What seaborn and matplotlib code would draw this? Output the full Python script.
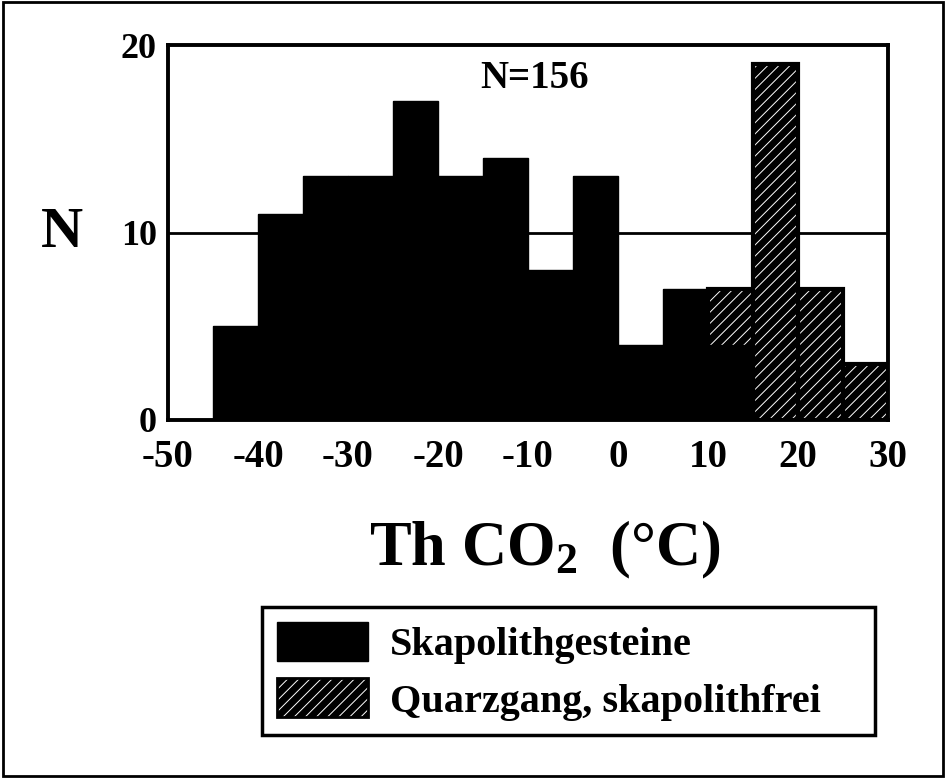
import numpy as np
import pandas as pd
import matplotlib
matplotlib.use("Agg")
import matplotlib.pyplot as plt
import seaborn as sns
from matplotlib.patches import Patch, Rectangle
from matplotlib.legend_handler import HandlerTuple

# ---- data ----
bin_left = [-45, -40, -35, -30, -25, -20, -15, -10, -5, 0, 5, 10, 15, 20, 25]
skapolith = [5, 11, 13, 13, 17, 13, 14, 8, 13, 4, 7, 4, 0, 0, 0]
quarzgang = [0, 0, 0, 0, 0, 0, 0, 0, 0, 0, 0, 3, 19, 7, 3]
x_ticks = [-50, -40, -30, -20, -10, 0, 10, 20, 30]
y_ticks = [0, 10, 20]
labels = ["Skapolithgesteine", "Quarzgang, skapolithfrei"]
bin_width = 5

df = pd.DataFrame({
    "center": np.array(bin_left) + bin_width / 2,
    "skap": skapolith,
    "quarz": quarzgang,
})
df["total"] = df["skap"] + df["quarz"]
df["quarz_total"] = np.where(df["quarz"] > 0, df["total"], 0)
edges = bin_left + [bin_left[-1] + bin_width]

sns.set_theme(style="white")
plt.rcParams["font.family"] = ["Liberation Serif", "DejaVu Serif"]
plt.rcParams["font.weight"] = "bold"
plt.rcParams["text.color"] = "black"
plt.rcParams["mathtext.fontset"] = "custom"
plt.rcParams["mathtext.rm"] = "Liberation Serif:bold"
plt.rcParams["mathtext.it"] = "Liberation Serif:bold"
plt.rcParams["mathtext.bf"] = "Liberation Serif:bold"
plt.rcParams["hatch.linewidth"] = 0.7
plt.rcParams["hatch.color"] = "white"

HATCH = "///"

fig = plt.figure(figsize=(9.46, 7.78), dpi=100)
ax = fig.add_axes([168 / 946, 1 - 420 / 778, 720 / 946, 375 / 778])

# hatched (total height), then outline, then black bars on top
n0 = len(ax.patches)
sns.histplot(data=df, x="center", weights="total", bins=edges, ax=ax,
             color="black", alpha=1, zorder=2)
for p in ax.patches[n0:]:
    p.set_facecolor("black")
    p.set_edgecolor("white")
    p.set_linewidth(0)
    p.set_hatch(HATCH)
sns.histplot(data=df, x="center", weights="quarz_total", bins=edges, ax=ax,
             fill=False, color="black", linewidth=3, zorder=3)
n1 = len(ax.patches)
sns.histplot(data=df, x="center", weights="skap", bins=edges, ax=ax,
             color="black", alpha=1, zorder=4)
for p in ax.patches[n1:]:
    p.set_facecolor("black")
    p.set_edgecolor("black")
    p.set_linewidth(1)

ax.axhline(10, color="black", lw=2, zorder=1)

ax.set_xlim(-50, 30)
ax.set_ylim(0, 20)
ax.set_xticks(x_ticks)
ax.set_yticks(y_ticks)
ax.set_xticklabels([str(t) for t in x_ticks])
ax.set_yticklabels([str(t) for t in y_ticks])
ax.tick_params(axis="both", length=0, labelsize=28, colors="black")
ax.tick_params(axis="y", pad=8, labelsize=26)
ax.tick_params(axis="x", pad=14)
for lab in ax.get_xticklabels() + ax.get_yticklabels():
    lab.set_fontweight("bold")
ax.set_xlabel("")
ax.set_ylabel("")
for s in ax.spines.values():
    s.set_visible(True)
    s.set_color("black")
    s.set_linewidth(2.8)

fig.text(62 / 946, 1 - 233 / 778, "N", fontsize=42, fontweight="bold",
         ha="center", va="center", color="black")
fig.text(535 / 946, 1 - 78 / 778, "N=156", fontsize=28, fontweight="bold",
         ha="center", va="center", color="black")
fig.text(545 / 946, 1 - 565 / 778, r"Th CO$_2$  (°C)", fontsize=45,
         fontweight="bold", ha="center", va="baseline", color="black")

h_black = Patch(facecolor="black", edgecolor="black", linewidth=1)
h_hatch = (Patch(facecolor="black", edgecolor="white", hatch=HATCH, linewidth=0),
           Patch(fill=False, edgecolor="black", linewidth=2))
leg = fig.legend([h_black, h_hatch], labels,
                 handler_map={tuple: HandlerTuple(ndivide=1, pad=0)},
                 loc="upper left",
                 bbox_to_anchor=(262 / 946, 1 - 607 / 778, (875 - 262) / 946, 0.0),
                 mode="expand", frameon=True, fancybox=False,
                 prop={"family": "Liberation Serif", "weight": "bold", "size": 29},
                 labelcolor="black",
                 handlelength=2.25, handleheight=1.12, labelspacing=0.35,
                 borderpad=0.37, handletextpad=0.55, borderaxespad=0)
leg.get_frame().set_edgecolor("black")
leg.get_frame().set_linewidth(2.5)
leg.get_frame().set_alpha(1)

fig.add_artist(Rectangle((0.003, 0.003), 0.994, 0.994, transform=fig.transFigure,
                         fill=False, edgecolor="black", linewidth=2))

fig.savefig("out.png", dpi=100)
